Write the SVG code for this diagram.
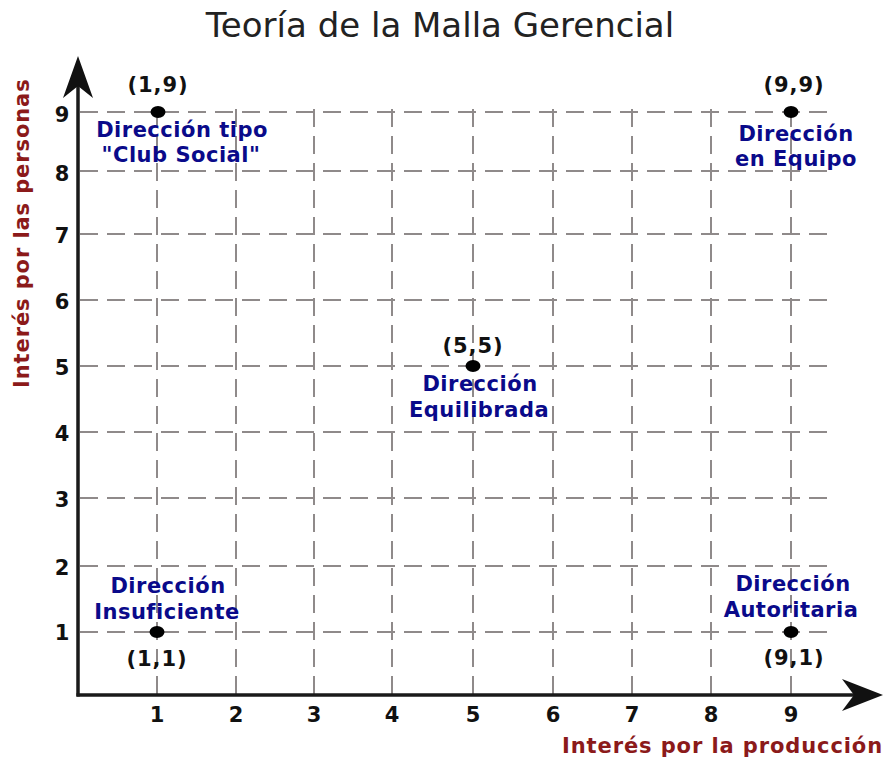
<svg xmlns="http://www.w3.org/2000/svg" width="886" height="758" viewBox="0 0 886 758">
<style>
.grid{stroke:#8f8a8a;stroke-width:2;fill:none;stroke-dasharray:18 9}
.axis{stroke:#1a1a1a;stroke-width:3.5;fill:none}
.tick{font-family:"DejaVu Sans",Verdana,sans-serif;font-weight:bold;font-size:21px;fill:#111;text-anchor:middle}
.coord{font-family:"DejaVu Sans",Verdana,sans-serif;font-weight:bold;font-size:21px;fill:#111;text-anchor:middle;letter-spacing:0.9px}
.name{font-family:"DejaVu Sans",Verdana,sans-serif;font-weight:bold;font-size:21px;fill:#0a0a8a;text-anchor:middle;letter-spacing:0.5px}
.axlabel{font-family:"DejaVu Sans",Verdana,sans-serif;font-weight:bold;font-size:21px;fill:#8b1a1a;letter-spacing:0.9px}
.title{font-family:"DejaVu Sans",Verdana,sans-serif;font-size:34px;fill:#222;text-anchor:middle}
</style>
<rect width="886" height="758" fill="#fff"/>
<text class="title" x="440" y="37">Teoría de la Malla Gerencial</text>
<g id="grid">
<line class="grid" x1="80" y1="112" x2="835" y2="112"/>
<line class="grid" x1="80" y1="171" x2="835" y2="171"/>
<line class="grid" x1="80" y1="234" x2="835" y2="234"/>
<line class="grid" x1="80" y1="300" x2="835" y2="300"/>
<line class="grid" x1="80" y1="366" x2="835" y2="366"/>
<line class="grid" x1="80" y1="432" x2="835" y2="432"/>
<line class="grid" x1="80" y1="498" x2="835" y2="498"/>
<line class="grid" x1="80" y1="566" x2="835" y2="566"/>
<line class="grid" x1="80" y1="632" x2="835" y2="632"/>
<line class="grid" x1="157" y1="694" x2="157" y2="103"/>
<line class="grid" x1="236" y1="694" x2="236" y2="103"/>
<line class="grid" x1="314" y1="694" x2="314" y2="103"/>
<line class="grid" x1="392" y1="694" x2="392" y2="103"/>
<line class="grid" x1="473" y1="694" x2="473" y2="103"/>
<line class="grid" x1="553" y1="694" x2="553" y2="103"/>
<line class="grid" x1="632" y1="694" x2="632" y2="103"/>
<line class="grid" x1="711" y1="694" x2="711" y2="103"/>
<line class="grid" x1="791" y1="694" x2="791" y2="103"/>
</g>
<g id="connectors">
<line class="axis" x1="78" y1="84" x2="78" y2="696.5"/>
<line class="axis" x1="76.5" y1="695" x2="858" y2="695"/>
<path d="M78 56 L93 98 L78 86 L63 98 Z" fill="#111"/>
<path d="M883 695 L842 679 L854 695 L842 711 Z" fill="#111"/>
</g>
<g id="ticks">
<text class="tick" x="157" y="722">1</text>
<text class="tick" x="236" y="722">2</text>
<text class="tick" x="314" y="722">3</text>
<text class="tick" x="392" y="722">4</text>
<text class="tick" x="473" y="722">5</text>
<text class="tick" x="553" y="722">6</text>
<text class="tick" x="632" y="722">7</text>
<text class="tick" x="711" y="722">8</text>
<text class="tick" x="791" y="722">9</text>
<text class="tick" x="62" y="122">9</text>
<text class="tick" x="62" y="181">8</text>
<text class="tick" x="62" y="243">7</text>
<text class="tick" x="62" y="309">6</text>
<text class="tick" x="62" y="375">5</text>
<text class="tick" x="62" y="441">4</text>
<text class="tick" x="62" y="507">3</text>
<text class="tick" x="62" y="575">2</text>
<text class="tick" x="62" y="640">1</text>
</g>
<text class="axlabel" x="562" y="753">Interés por la producción</text>
<text class="axlabel" transform="translate(29,388) rotate(-90)" x="0" y="0">Interés por las personas</text>
<g id="node-1-9">
<ellipse cx="158" cy="112" rx="7.5" ry="6" fill="#000"/>
<text class="coord" x="158" y="92">(1,9)</text>
<text class="name" x="182" y="137">Dirección tipo</text>
<text class="name" x="181" y="162">"Club Social"</text>
</g>
<g id="node-9-9">
<ellipse cx="791" cy="112" rx="7.5" ry="6" fill="#000"/>
<text class="coord" x="794" y="92">(9,9)</text>
<text class="name" x="796" y="141">Dirección</text>
<text class="name" x="796" y="166">en Equipo</text>
</g>
<g id="node-5-5">
<ellipse cx="473" cy="366" rx="7.5" ry="6" fill="#000"/>
<text class="coord" x="473" y="353">(5,5)</text>
<text class="name" x="480" y="391">Dirección</text>
<text class="name" x="479" y="417">Equilibrada</text>
</g>
<g id="node-1-1">
<ellipse cx="157" cy="632" rx="7.5" ry="6" fill="#000"/>
<text class="coord" x="157" y="666">(1,1)</text>
<text class="name" x="168" y="593">Dirección</text>
<text class="name" x="167" y="619">Insuficiente</text>
</g>
<g id="node-9-1">
<ellipse cx="791" cy="632" rx="7.5" ry="6" fill="#000"/>
<text class="coord" x="794" y="665">(9,1)</text>
<text class="name" x="793" y="591">Dirección</text>
<text class="name" x="791" y="617">Autoritaria</text>
</g>
</svg>
